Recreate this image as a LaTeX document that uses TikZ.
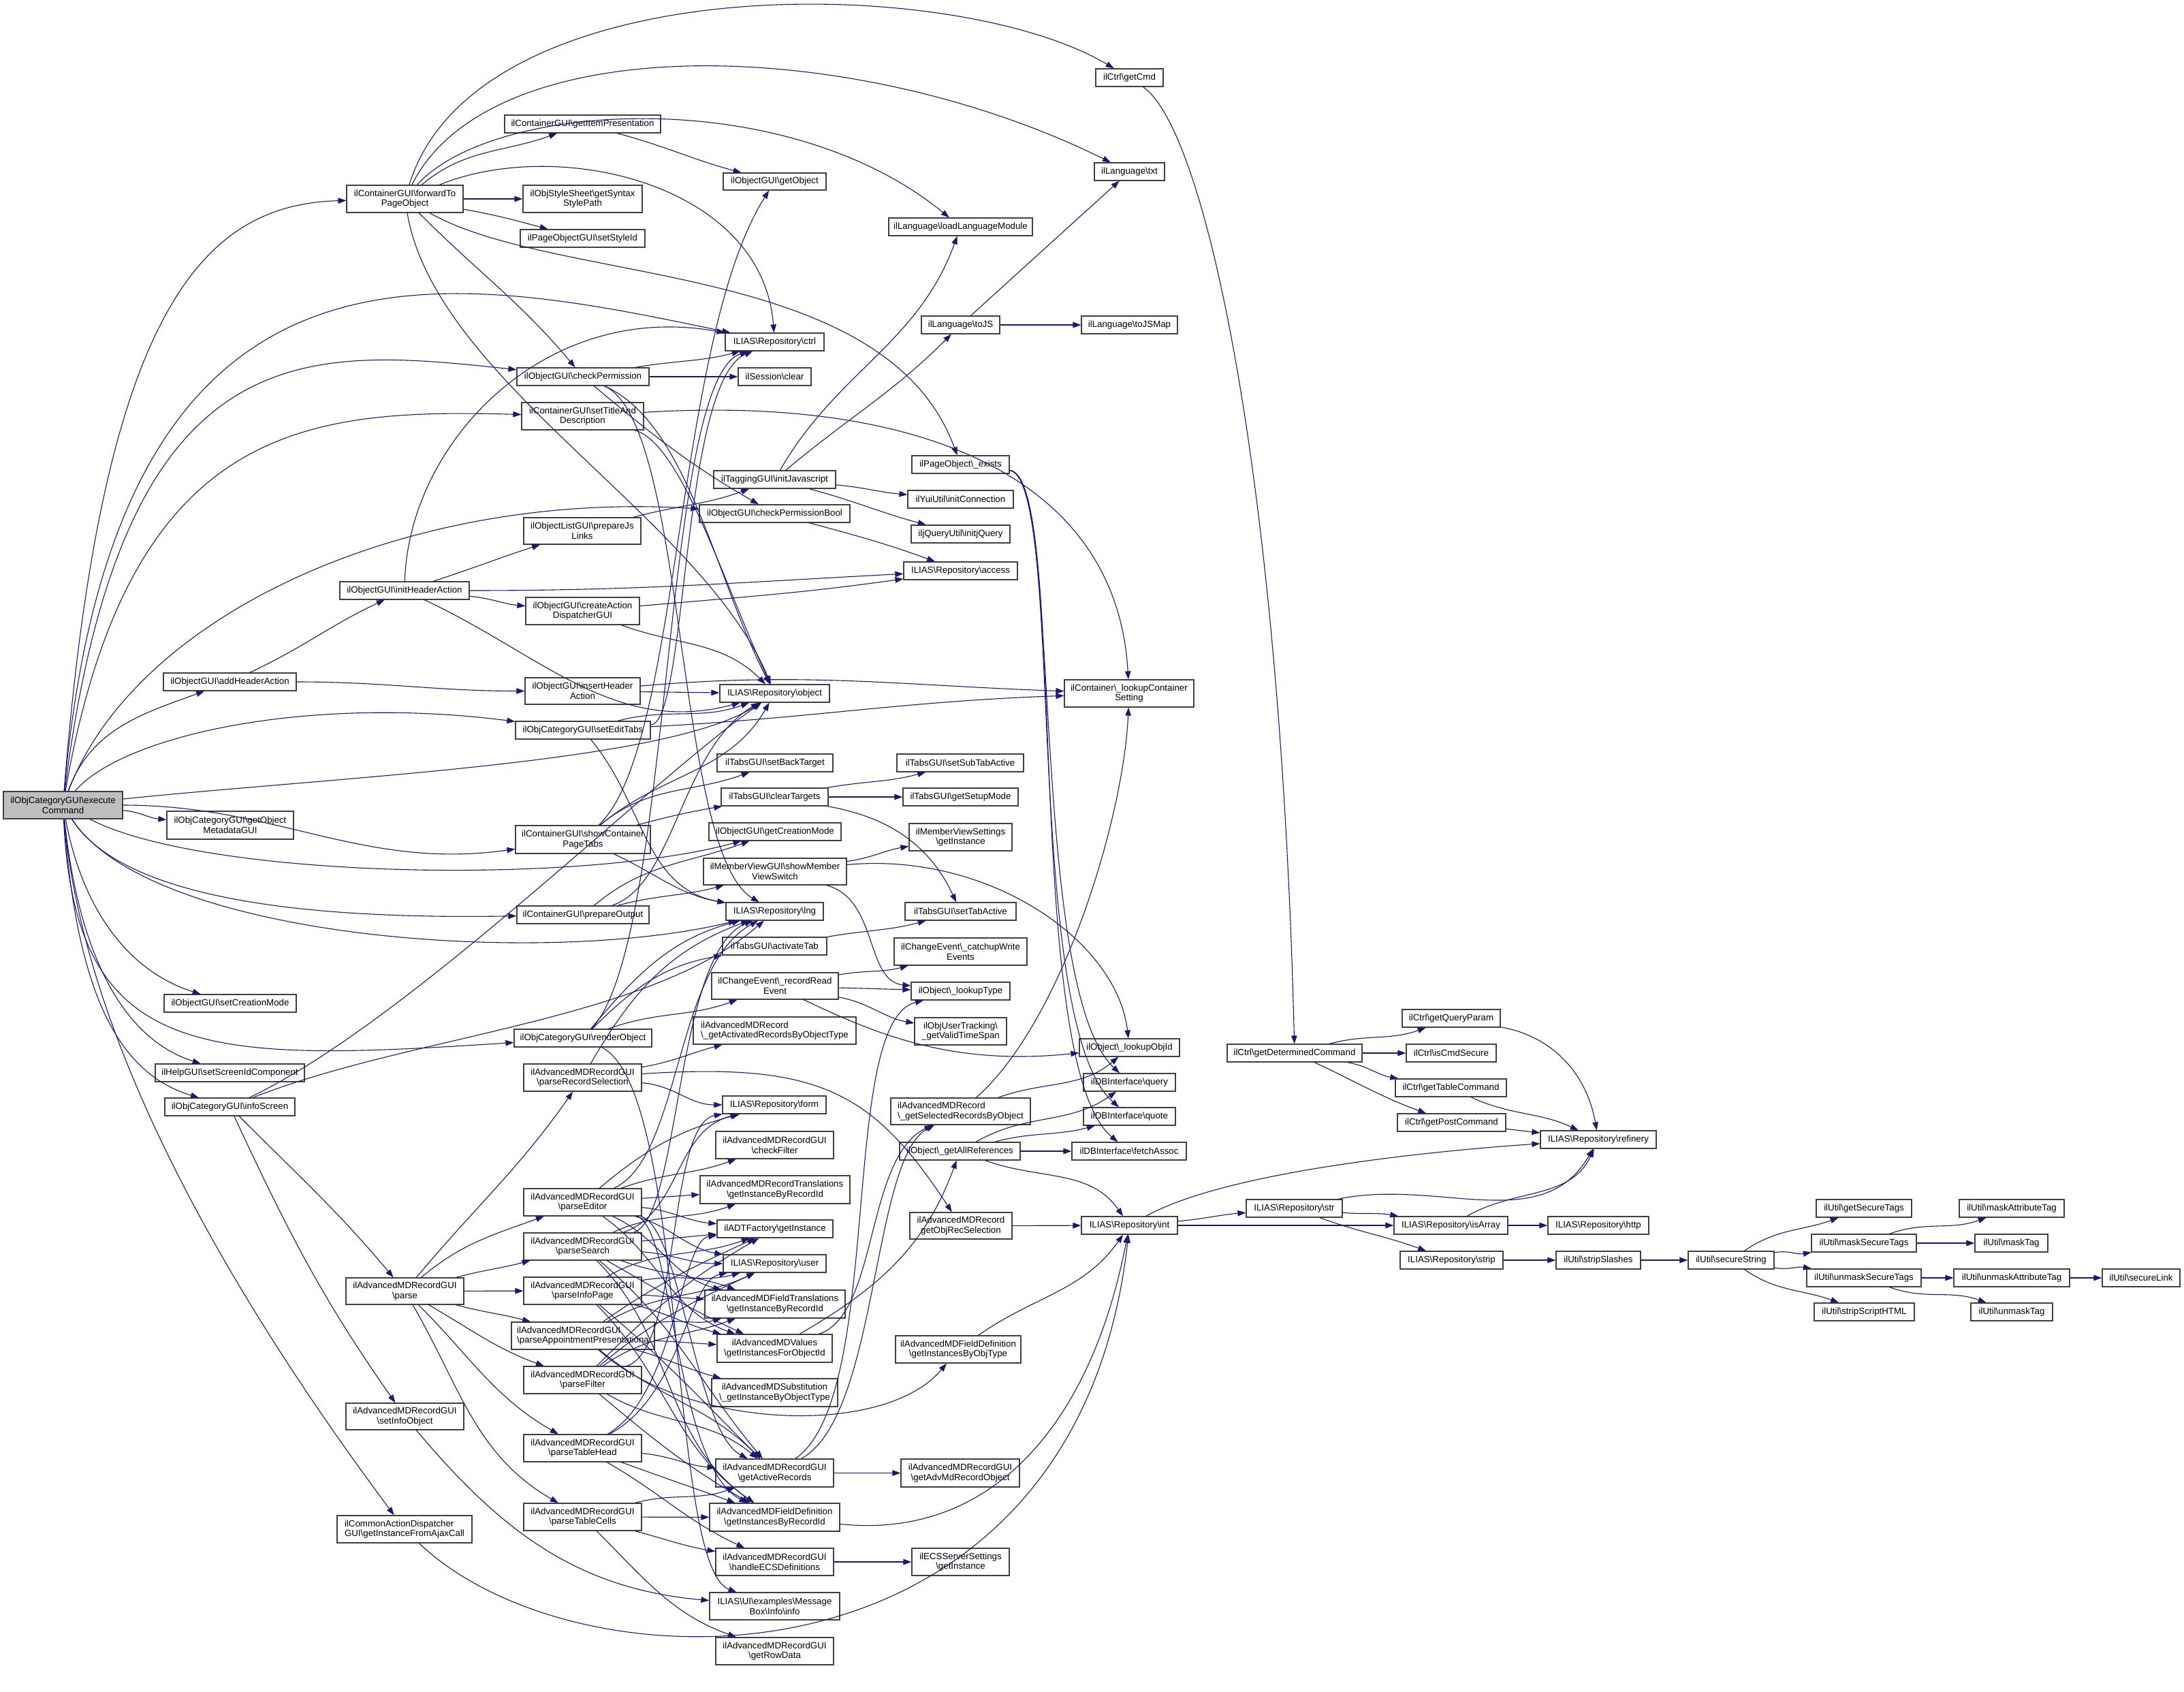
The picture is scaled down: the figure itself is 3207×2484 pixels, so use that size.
\documentclass[tikz,border=0pt]{standalone}
\usepackage{fontspec}
\setmainfont{Liberation Sans}
\usetikzlibrary{arrows.meta}
\definecolor{edgec}{RGB}{25,25,112}
\definecolor{boxgray}{RGB}{64,64,64}
\definecolor{execgray}{RGB}{191,191,191}
\newcommand\ilbs{\textbackslash}
\newcommand\ND[7][]{%
 \pgfmathsetmacro\ndw{#5-#3}\pgfmathsetmacro\ndh{#6-#4}%
 \pgfmathsetmacro\ndx{(#3+#5)/2}\pgfmathsetmacro\ndy{(#4+#6)/2}%
 \node[bx,#1,minimum width=\ndw pt,minimum height=\ndh pt] (#2) at (\ndx,\ndy) {#7};}
\tikzset{
 bx/.style={draw=boxgray, line width=1.2pt, fill=white, inner sep=0pt, align=center, text=black,
   font=\fontsize{13.3}{14.8}\selectfont},
 bxl/.style={align=left},
 e/.style={draw=edgec, line width=1.1pt, -{Triangle[length=12pt,width=8.5pt]}}
}
\begin{document}
\begin{tikzpicture}[x=1pt,y=-1pt]
\fill[white] (0,0) rectangle (3207,2484);
\useasboundingbox (0,0) rectangle (3207,2484);
% ---------------- nodes
\ND[fill=execgray]{E}{5}{1162}{180}{1202}{ilObjCategoryGUI\ilbs execute\\Command}
\ND{fwd}{509}{272}{680}{312}{ilContainerGUI\ilbs forwardTo\\PageObject}
\ND{getItemPres}{741}{169}{970}{195}{ilContainerGUI\ilbs getItemPresentation}
\ND{syntax}{768}{272}{943}{312}{ilObjStyleSheet\ilbs getSyntax\\StylePath}
\ND{styleId}{764}{337}{947}{363}{ilPageObjectGUI\ilbs setStyleId}
\ND{getObject}{1062}{254}{1213}{279}{ilObjectGUI\ilbs getObject}
\ND{loadLang}{1305}{320}{1516}{346}{ilLanguage\ilbs loadLanguageModule}
\ND{getCmd}{1609}{101}{1708}{127}{ilCtrl\ilbs getCmd}
\ND{txt}{1607}{239}{1710}{265}{ilLanguage\ilbs txt}
\ND{ctrl}{1065}{489}{1210}{515}{ILIAS\ilbs Repository\ilbs ctrl}
\ND{toJS}{1353}{464}{1468}{490}{ilLanguage\ilbs toJS}
\ND{toJSMap}{1588}{464}{1729}{490}{ilLanguage\ilbs toJSMap}
\ND{checkPerm}{759}{540}{953}{566}{ilObjectGUI\ilbs checkPermission}
\ND{sessClear}{1084}{540}{1191}{566}{ilSession\ilbs clear}
\ND{setTitle}{766}{591}{945}{631}{ilContainerGUI\ilbs setTitleAnd\\Description}
\ND{exists}{1339}{669}{1482}{695}{ilPageObject\ilbs\_exists}
\ND{initJS}{1048}{691}{1227}{717}{ilTaggingGUI\ilbs initJavascript}
\ND{yui}{1333}{720}{1488}{746}{ilYuiUtil\ilbs initConnection}
\ND{cpBool}{1027}{741}{1248}{767}{ilObjectGUI\ilbs checkPermissionBool}
\ND{jq}{1338}{771}{1483}{797}{iljQueryUtil\ilbs initjQuery}
\ND{prepJs}{769}{760}{941}{799}{ilObjectListGUI\ilbs prepareJs\\Links}
\ND{access}{1327}{825}{1494}{851}{ILIAS\ilbs Repository\ilbs access}
\ND{initHA}{499}{854}{689}{880}{ilObjectGUI\ilbs initHeaderAction}
\ND{createAD}{772}{877}{939}{917}{ilObjectGUI\ilbs createAction\\DispatcherGUI}
\ND{addHA}{240}{988}{435}{1014}{ilObjectGUI\ilbs addHeaderAction}
\ND{insertHA}{771}{995}{940}{1034}{ilObjectGUI\ilbs insertHeader\\Action}
\ND{object}{1057}{1005}{1218}{1031}{ILIAS\ilbs Repository\ilbs object}
\ND{lcs}{1563}{998}{1753}{1038}{ilContainer\ilbs\_lookupContainer\\Setting}
\ND{setEditTabs}{757}{1059}{955}{1085}{ilObjCategoryGUI\ilbs setEditTabs}
\ND{setBack}{1053}{1107}{1223}{1133}{ilTabsGUI\ilbs setBackTarget}
\ND{setSub}{1317}{1107}{1503}{1133}{ilTabsGUI\ilbs setSubTabActive}
\ND{clearT}{1059}{1157}{1216}{1183}{ilTabsGUI\ilbs clearTargets}
\ND{setupMode}{1326}{1157}{1495}{1183}{ilTabsGUI\ilbs getSetupMode}
\ND{getMeta}{245}{1191}{431}{1232}{ilObjCategoryGUI\ilbs getObject\\MetadataGUI}
\ND{showCPT}{757}{1212}{955}{1253}{ilContainerGUI\ilbs showContainer\\PageTabs}
\ND{getCM}{1041}{1208}{1235}{1234}{ilObjectGUI\ilbs getCreationMode}
\ND{mvsInst}{1335}{1209}{1486}{1249}{ilMemberViewSettings\\\ilbs getInstance}
\ND{mvs}{1033}{1260}{1243}{1299}{ilMemberViewGUI\ilbs showMember\\ViewSwitch}
\ND{prepOut}{759}{1330}{953}{1356}{ilContainerGUI\ilbs prepareOutput}
\ND{lng}{1066}{1325}{1209}{1351}{ILIAS\ilbs Repository\ilbs lng}
\ND{setTabA}{1329}{1325}{1492}{1351}{ilTabsGUI\ilbs setTabActive}
\ND{actTab}{1061}{1376}{1214}{1402}{ilTabsGUI\ilbs activateTab}
\ND{catchup}{1313}{1377}{1508}{1417}{ilChangeEvent\ilbs\_catchupWrite\\Events}
\ND{recRead}{1045}{1428}{1231}{1467}{ilChangeEvent\ilbs\_recordRead\\Event}
\ND{lookupType}{1338}{1442}{1483}{1468}{ilObject\ilbs\_lookupType}
\ND{setCM}{241}{1460}{435}{1486}{ilObjectGUI\ilbs setCreationMode}
\ND{validTS}{1343}{1494}{1478}{1534}{ilObjUserTracking\ilbs\\\_getValidTimeSpan}
\ND[bxl]{actRec}{1018}{1493}{1257}{1533}{ilAdvancedMDRecord\\\ilbs\_getActivatedRecordsByObjectType}
\ND{renderObj}{755}{1511}{957}{1537}{ilObjCategoryGUI\ilbs renderObject}
\ND{lookupObjId}{1585}{1525}{1732}{1551}{ilObject\ilbs\_lookupObjId}
\ND{detCmd}{1802}{1533}{2000}{1559}{ilCtrl\ilbs getDeterminedCommand}
\ND{queryParam}{2059}{1482}{2203}{1508}{ilCtrl\ilbs getQueryParam}
\ND{isCmdSecure}{2065}{1533}{2197}{1559}{ilCtrl\ilbs isCmdSecure}
\ND{setScreen}{228}{1562}{447}{1588}{ilHelpGUI\ilbs setScreenIdComponent}
\ND{parseRS}{769}{1562}{942}{1602}{ilAdvancedMDRecordGUI\\\ilbs parseRecordSelection}
\ND{dbQuery}{1591}{1576}{1726}{1602}{ilDBInterface\ilbs query}
\ND{tableCmd}{2049}{1584}{2212}{1610}{ilCtrl\ilbs getTableCommand}
\ND{form}{1061}{1609}{1213}{1635}{ILIAS\ilbs Repository\ilbs form}
\ND[bxl]{selRec}{1308}{1612}{1513}{1651}{ilAdvancedMDRecord\\\ilbs\_getSelectedRecordsByObject}
\ND{infoScreen}{242}{1612}{433}{1638}{ilObjCategoryGUI\ilbs infoScreen}
\ND{dbQuote}{1591}{1626}{1726}{1652}{ilDBInterface\ilbs quote}
\ND{postCmd}{2052}{1635}{2211}{1661}{ilCtrl\ilbs getPostCommand}
\ND{refinery}{2262}{1660}{2432}{1686}{ILIAS\ilbs Repository\ilbs refinery}
\ND{checkFilter}{1051}{1661}{1224}{1701}{ilAdvancedMDRecordGUI\\\ilbs checkFilter}
\ND{allRefs}{1321}{1677}{1498}{1703}{ilObject\ilbs\_getAllReferences}
\ND{fetchAssoc}{1574}{1677}{1742}{1703}{ilDBInterface\ilbs fetchAssoc}
\ND{recTrans}{1028}{1726}{1248}{1767}{ilAdvancedMDRecordTranslations\\\ilbs getInstanceByRecordId}
\ND{parseEditor}{769}{1745}{942}{1785}{ilAdvancedMDRecordGUI\\\ilbs parseEditor}
\ND{str}{1830}{1761}{1971}{1787}{ILIAS\ilbs Repository\ilbs str}
\ND{getSecTags}{2667}{1761}{2807}{1787}{ilUtil\ilbs getSecureTags}
\ND{maskAttr}{2877}{1761}{3031}{1787}{ilUtil\ilbs maskAttributeTag}
\ND{objRecSel}{1336}{1780}{1486}{1819}{ilAdvancedMDRecord\\getObjRecSelection}
\ND{int}{1588}{1786}{1729}{1812}{ILIAS\ilbs Repository\ilbs int}
\ND{isArray}{2047}{1786}{2214}{1812}{ILIAS\ilbs Repository\ilbs isArray}
\ND{http}{2273}{1786}{2421}{1812}{ILIAS\ilbs Repository\ilbs http}
\ND{adt}{1053}{1791}{1223}{1817}{ilADTFactory\ilbs getInstance}
\ND{parseSearch}{769}{1810}{942}{1850}{ilAdvancedMDRecordGUI\\\ilbs parseSearch}
\ND{maskSec}{2660}{1812}{2814}{1838}{ilUtil\ilbs maskSecureTags}
\ND{maskTag}{2900}{1812}{3007}{1838}{ilUtil\ilbs maskTag}
\ND{strip}{2056}{1837}{2207}{1863}{ILIAS\ilbs Repository\ilbs strip}
\ND{stripSl}{2285}{1837}{2409}{1863}{ilUtil\ilbs stripSlashes}
\ND{secStr}{2479}{1837}{2605}{1863}{ilUtil\ilbs secureString}
\ND{user}{1062}{1842}{1213}{1868}{ILIAS\ilbs Repository\ilbs user}
\ND{unmaskSec}{2653}{1863}{2821}{1889}{ilUtil\ilbs unmaskSecureTags}
\ND{unmaskAttr}{2869}{1863}{3039}{1889}{ilUtil\ilbs unmaskAttributeTag}
\ND{secLink}{3087}{1863}{3201}{1889}{ilUtil\ilbs secureLink}
\ND{parse}{508}{1876}{681}{1915}{ilAdvancedMDRecordGUI\\\ilbs parse}
\ND{parseInfo}{769}{1875}{942}{1915}{ilAdvancedMDRecordGUI\\\ilbs parseInfoPage}
\ND{fieldTrans}{1035}{1894}{1241}{1935}{ilAdvancedMDFieldTranslations\\\ilbs getInstanceByRecordId}
\ND{stripHTML}{2664}{1913}{2811}{1939}{ilUtil\ilbs stripScriptHTML}
\ND{unmaskTag}{2894}{1913}{3014}{1939}{ilUtil\ilbs unmaskTag}
\ND[bxl]{parseAppt}{751}{1941}{961}{1981}{ilAdvancedMDRecordGUI\\\ilbs parseAppointmentPresentationa}
\ND{values}{1053}{1959}{1222}{2000}{ilAdvancedMDValues\\\ilbs getInstancesForObjectId}
\ND{byObjType}{1315}{1961}{1499}{2001}{ilAdvancedMDFieldDefinition\\\ilbs getInstancesByObjType}
\ND{parseFilter}{769}{2006}{942}{2046}{ilAdvancedMDRecordGUI\\\ilbs parseFilter}
\ND{subst}{1045}{2024}{1230}{2065}{ilAdvancedMDSubstitution\\\ilbs\_getInstanceByObjectType}
\ND{setInfoObj}{508}{2060}{681}{2099}{ilAdvancedMDRecordGUI\\\ilbs setInfoObject}
\ND{parseTH}{769}{2106}{942}{2146}{ilAdvancedMDRecordGUI\\\ilbs parseTableHead}
\ND{activeRec}{1051}{2142}{1224}{2183}{ilAdvancedMDRecordGUI\\\ilbs getActiveRecords}
\ND{advMdObj}{1323}{2142}{1497}{2183}{ilAdvancedMDRecordGUI\\\ilbs getAdvMdRecordObject}
\ND{parseTC}{769}{2207}{942}{2247}{ilAdvancedMDRecordGUI\\\ilbs parseTableCells}
\ND{byRecId}{1042}{2207}{1233}{2248}{ilAdvancedMDFieldDefinition\\\ilbs getInstancesByRecordId}
\ND[bxl]{ajax}{495}{2225}{693}{2265}{ilCommonActionDispatcher\\GUI\ilbs getInstanceFromAjaxCall}
\ND{ecs}{1051}{2273}{1224}{2313}{ilAdvancedMDRecordGUI\\\ilbs handleECSDefinitions}
\ND{ecsInst}{1339}{2273}{1482}{2313}{ilECSServerSettings\\\ilbs getInstance}
\ND{info}{1042}{2338}{1233}{2378}{ILIAS\ilbs UI\ilbs examples\ilbs Message\\Box\ilbs Info\ilbs info}
\ND{rowData}{1051}{2404}{1224}{2444}{ilAdvancedMDRecordGUI\\\ilbs getRowData}
% ---------------- edges
% from executeCommand
\draw[e] (E) .. controls (150,450) and (300,300) .. (fwd);
\draw[e] (E) .. controls (170,300) and (650,400) .. (ctrl);
\draw[e] (E) .. controls (180,480) and (450,510) .. (checkPerm);
\draw[e] (E) .. controls (190,620) and (450,600) .. (setTitle);
\draw[e] (E) .. controls (200,900) and (600,720) .. (cpBool);
\draw[e] (E) to[out=70,in=200] (addHA);
\draw[e] (E) .. controls (180,1080) and (450,1020) .. (setEditTabs);
\draw[e] (E) .. controls (500,1140) and (980,1120) .. (object);
\draw[e] (E) to[out=-5,in=175] (getMeta);
\draw[e] (E) to[out=0,in=188] (showCPT);
\draw[e] (E) .. controls (300,1290) and (850,1300) .. (getCM);
\draw[e] (E) .. controls (180,1320) and (450,1350) .. (prepOut);
\draw[e] (E) .. controls (220,1380) and (800,1420) .. (lng);
\draw[e] (E) .. controls (110,1560) and (300,1560) .. (renderObj);
\draw[e] (E) .. controls (120,1330) and (185,1425) .. (setCM);
\draw[e] (E) .. controls (115,1400) and (180,1525) .. (setScreen);
\draw[e] (E) .. controls (112,1450) and (170,1575) .. (infoScreen);
\draw[e] (E) .. controls (120,1500) and (300,1850) .. (ajax);
% addHeaderAction / initHeaderAction
\draw[e] (addHA) to[out=25,in=205] (initHA);
\draw[e] (addHA) to[out=0,in=180] (insertHA);
\draw[e] (initHA) .. controls (600,650) and (800,440) .. (ctrl);
\draw[e] (initHA) to[out=18,in=198] (prepJs);
\draw[e] (initHA) to[out=0,in=183] (access);
\draw[e] (initHA) to[out=-5,in=175] (createAD);
\draw[e] (initHA) to[out=-25,in=195] (object);
\draw[e] (createAD) to[out=5,in=188] (access);
\draw[e] (createAD) to[out=-20,in=135] (object);
\draw[e] (insertHA) -- (object);
\draw[e] (insertHA) to[out=5,in=178] (lcs);
% forwardToPageObject
\draw[e] (fwd) .. controls (700,-50) and (1400,-40) .. (getCmd);
\draw[e] (fwd) .. controls (720,40) and (1250,50) .. (txt);
\draw[e] (fwd) .. controls (720,150) and (1150,120) .. (loadLang);
\draw[e] (fwd) to[out=40,in=200] (getItemPres);
\draw[e] (fwd) .. controls (820,200) and (1120,270) .. (ctrl);
\draw[e] (fwd) -- (syntax);
\draw[e] (fwd) to[out=-10,in=165] (styleId);
\draw[e] (fwd) .. controls (820,420) and (1300,380) .. (exists);
\draw[e] (fwd) to[out=-45,in=130] (checkPerm);
\draw[e] (fwd) .. controls (640,560) and (1030,760) .. (object);
\draw[e] (getItemPres) to[out=-15,in=165] (getObject);
% checkPermission / setTitle
\draw[e] (checkPerm) to[out=10,in=195] (ctrl);
\draw[e] (checkPerm) -- (sessClear);
\draw[e] (checkPerm) to[out=-40,in=150] (cpBool);
\draw[e] (checkPerm) .. controls (1010,620) and (1050,850) .. (object);
\draw[e] (checkPerm) .. controls (1010,620) and (990,1250) .. (lng);
\draw[e] (setTitle) .. controls (1350,580) and (1640,700) .. (lcs);
\draw[e] (setTitle) .. controls (1000,650) and (1060,850) .. (object);
\draw[e] (exists) .. controls (1560,700) and (1510,1450) .. (dbQuery);
\draw[e] (exists) .. controls (1565,700) and (1500,1500) .. (dbQuote);
\draw[e] (exists) .. controls (1570,700) and (1500,1560) .. (fetchAssoc);
% tagging
\draw[e] (initJS) to[out=60,in=250] (loadLang);
\draw[e] (initJS) to[out=40,in=225] (toJS);
\draw[e] (initJS) to[out=-5,in=175] (yui);
\draw[e] (initJS) to[out=-15,in=165] (jq);
\draw[e] (prepJs) to[out=15,in=200] (initJS);
\draw[e] (toJS) -- (txt);
\draw[e] (toJS) -- (toJSMap);
\draw[e] (cpBool) to[out=-15,in=160] (access);
% setEditTabs
\draw[e] (setEditTabs) to[out=15,in=200] (object);
\draw[e] (setEditTabs) to[out=3,in=182] (lcs);
\draw[e] (setEditTabs) .. controls (1010,1060) and (1000,560) .. (ctrl);
\draw[e] (setEditTabs) to[out=-50,in=170] (lng);
% showContainerPageTabs
\draw[e] (showCPT) to[out=40,in=200] (setBack);
\draw[e] (showCPT) to[out=15,in=190] (clearT);
\draw[e] (showCPT) to[out=40,in=240] (object);
\draw[e] (showCPT) to[out=-25,in=170] (lng);
\draw[e] (showCPT) .. controls (1000,1100) and (990,500) .. (getObject);
% prepareOutput
\draw[e] (prepOut) to[out=40,in=200] (getCM);
\draw[e] (prepOut) to[out=15,in=195] (mvs);
\draw[e] (prepOut) .. controls (990,1300) and (1000,1100) .. (object);
% tabs
\draw[e] (clearT) to[out=10,in=195] (setSub);
\draw[e] (clearT) -- (setupMode);
\draw[e] (clearT) to[out=-10,in=115] (setTabA);
\draw[e] (actTab) to[out=10,in=195] (setTabA);
% member view
\draw[e] (mvs) to[out=8,in=190] (mvsInst);
\draw[e] (mvs) .. controls (1290,1320) and (1270,1440) .. (lookupType);
\draw[e] (mvs) .. controls (1450,1250) and (1640,1380) .. (lookupObjId);
% change event
\draw[e] (recRead) to[out=10,in=195] (catchup);
\draw[e] (recRead) -- (lookupType);
\draw[e] (recRead) to[out=-10,in=170] (validTS);
\draw[e] (recRead) .. controls (1290,1520) and (1400,1565) .. (lookupObjId);
% renderObject
\draw[e] (renderObj) to[out=45,in=190] (actTab);
\draw[e] (renderObj) to[out=20,in=200] (recRead);
\draw[e] (renderObj) .. controls (990,1380) and (970,560) .. (ctrl);
\draw[e] (renderObj) to[out=50,in=195] (lng);
\draw[e] (renderObj) .. controls (1010,1600) and (980,2300) .. (info);
% infoScreen
\draw[e] (infoScreen) to[out=-45,in=130] (parse);
\draw[e] (infoScreen) to[out=-65,in=125] (setInfoObj);
\draw[e] (infoScreen) .. controls (600,1500) and (950,1150) .. (object);
\draw[e] (infoScreen) .. controls (600,1520) and (950,1500) .. (lng);
% parse
\draw[e] (parse) to[out=50,in=235] (parseRS);
\draw[e] (parse) to[out=40,in=200] (parseEditor);
\draw[e] (parse) to[out=15,in=195] (parseSearch);
\draw[e] (parse) -- (parseInfo);
\draw[e] (parse) to[out=-15,in=165] (parseAppt);
\draw[e] (parse) to[out=-30,in=160] (parseFilter);
\draw[e] (parse) to[out=-45,in=150] (parseTH);
\draw[e] (parse) to[out=-60,in=150] (parseTC);
\draw[e] (setInfoObj) to[out=-50,in=175] (info);
\draw[e] (ajax) .. controls (850,2490) and (1580,2500) .. (int);
% parseRecordSelection
\draw[e] (parseRS) to[out=10,in=195] (actRec);
\draw[e] (parseRS) to[out=-5,in=180] (form);
\draw[e] (parseRS) to[out=60,in=200] (lng);
\draw[e] (parseRS) .. controls (1200,1560) and (1280,1600) .. (objRecSel);
% parseEditor
\draw[e] (parseEditor) to[out=40,in=195] (form);
\draw[e] (parseEditor) to[out=20,in=200] (checkFilter);
\draw[e] (parseEditor) -- (recTrans);
\draw[e] (parseEditor) to[out=-5,in=175] (adt);
\draw[e] (parseEditor) to[out=-15,in=170] (user);
\draw[e] (parseEditor) to[out=-25,in=165] (fieldTrans);
\draw[e] (parseEditor) to[out=-35,in=160] (values);
\draw[e] (parseEditor) .. controls (1000,1800) and (1020,2100) .. (activeRec);
\draw[e] (parseEditor) .. controls (990,1800) and (990,2150) .. (byRecId);
\draw[e] (parseEditor) .. controls (1000,1700) and (990,1420) .. (lng);
% parseSearch
\draw[e] (parseSearch) .. controls (1000,1780) and (990,1660) .. (form);
\draw[e] (parseSearch) to[out=25,in=200] (recTrans);
\draw[e] (parseSearch) -- (adt);
\draw[e] (parseSearch) to[out=-5,in=180] (user);
\draw[e] (parseSearch) to[out=-20,in=160] (fieldTrans);
\draw[e] (parseSearch) to[out=-30,in=155] (values);
\draw[e] (parseSearch) to[out=-40,in=130] (activeRec);
\draw[e] (parseSearch) to[out=-45,in=145] (byRecId);
\draw[e] (parseSearch) .. controls (1000,1790) and (990,1400) .. (lng);
% parseInfoPage
\draw[e] (parseInfo) to[out=30,in=200] (adt);
\draw[e] (parseInfo) to[out=10,in=195] (user);
\draw[e] (parseInfo) -- (fieldTrans);
\draw[e] (parseInfo) to[out=-15,in=165] (values);
\draw[e] (parseInfo) to[out=-45,in=145] (byRecId);
\draw[e] (parseInfo) to[out=-40,in=135] (activeRec);
% parseAppointmentPresentation
\draw[e] (parseAppt) to[out=10,in=195] (fieldTrans);
\draw[e] (parseAppt) -- (values);
\draw[e] (parseAppt) to[out=-15,in=165] (subst);
\draw[e] (parseAppt) to[out=35,in=205] (adt);
\draw[e] (parseAppt) to[out=30,in=205] (user);
\draw[e] (parseAppt) .. controls (1010,2100) and (1300,2110) .. (byObjType);
\draw[e] (parseAppt) to[out=-40,in=135] (activeRec);
% parseFilter
\draw[e] (parseFilter) .. controls (1000,1980) and (980,1650) .. (form);
\draw[e] (parseFilter) to[out=45,in=210] (adt);
\draw[e] (parseFilter) to[out=40,in=205] (user);
\draw[e] (parseFilter) to[out=35,in=200] (fieldTrans);
\draw[e] (parseFilter) to[out=-30,in=140] (activeRec);
\draw[e] (parseFilter) to[out=-40,in=150] (byRecId);
% parseTableHead
\draw[e] (parseTH) .. controls (1000,2050) and (1010,1880) .. (user);
\draw[e] (parseTH) .. controls (990,2050) and (1000,1820) .. (adt);
\draw[e] (parseTH) to[out=-5,in=175] (activeRec);
\draw[e] (parseTH) to[out=-20,in=160] (byRecId);
\draw[e] (parseTH) to[out=-30,in=155] (ecs);
% parseTableCells
\draw[e] (parseTC) to[out=15,in=200] (activeRec);
\draw[e] (parseTC) -- (byRecId);
\draw[e] (parseTC) to[out=-15,in=170] (ecs);
\draw[e] (parseTC) to[out=-45,in=160] (rowData);
% advanced MD internals
\draw[e] (activeRec) -- (advMdObj);
\draw[e] (activeRec) .. controls (1290,2080) and (1280,1700) .. (selRec);
\draw[e] (activeRec) .. controls (1300,2050) and (1230,1500) .. (lookupType);
\draw[e] (values) .. controls (1290,1930) and (1270,1700) .. (selRec);
\draw[e] (values) to[out=30,in=250] (allRefs);
\draw[e] (ecs) -- (ecsInst);
\draw[e] (selRec) .. controls (1560,1500) and (1650,1200) .. (lcs);
\draw[e] (selRec) to[out=20,in=220] (lookupObjId);
\draw[e] (allRefs) to[out=30,in=215] (dbQuery);
\draw[e] (allRefs) to[out=15,in=195] (dbQuote);
\draw[e] (allRefs) -- (fetchAssoc);
\draw[e] (allRefs) to[out=-20,in=125] (int);
\draw[e] (objRecSel) -- (int);
\draw[e] (byObjType) to[out=35,in=235] (int);
\draw[e] (byRecId) .. controls (1450,2260) and (1600,2100) .. (int);
% repository / util
\draw[e] (int) to[out=5,in=185] (str);
\draw[e] (int) -- (isArray);
\draw[e] (int) .. controls (1800,1720) and (2100,1690) .. (refinery);
\draw[e] (str) to[out=12,in=240] (refinery);
\draw[e] (str) to[out=-5,in=170] (isArray);
\draw[e] (str) to[out=-20,in=160] (strip);
\draw[e] (isArray) to[out=30,in=245] (refinery);
\draw[e] (isArray) -- (http);
\draw[e] (strip) -- (stripSl);
\draw[e] (stripSl) -- (secStr);
\draw[e] (secStr) to[out=35,in=200] (getSecTags);
\draw[e] (secStr) to[out=10,in=190] (maskSec);
\draw[e] (secStr) to[out=-10,in=170] (unmaskSec);
\draw[e] (secStr) to[out=-35,in=160] (stripHTML);
\draw[e] (maskSec) to[out=20,in=200] (maskAttr);
\draw[e] (maskSec) -- (maskTag);
\draw[e] (unmaskSec) -- (unmaskAttr);
\draw[e] (unmaskSec) to[out=-20,in=160] (unmaskTag);
\draw[e] (unmaskAttr) -- (secLink);
% ctrl
\draw[e] (getCmd) .. controls (1770,190) and (1880,700) .. (detCmd);
\draw[e] (detCmd) to[out=15,in=200] (queryParam);
\draw[e] (detCmd) -- (isCmdSecure);
\draw[e] (detCmd) to[out=-10,in=170] (tableCmd);
\draw[e] (detCmd) to[out=-25,in=160] (postCmd);
\draw[e] (queryParam) to[out=-10,in=100] (refinery);
\draw[e] (tableCmd) to[out=-25,in=155] (refinery);
\draw[e] (postCmd) -- (refinery);
\end{tikzpicture}
\end{document}
